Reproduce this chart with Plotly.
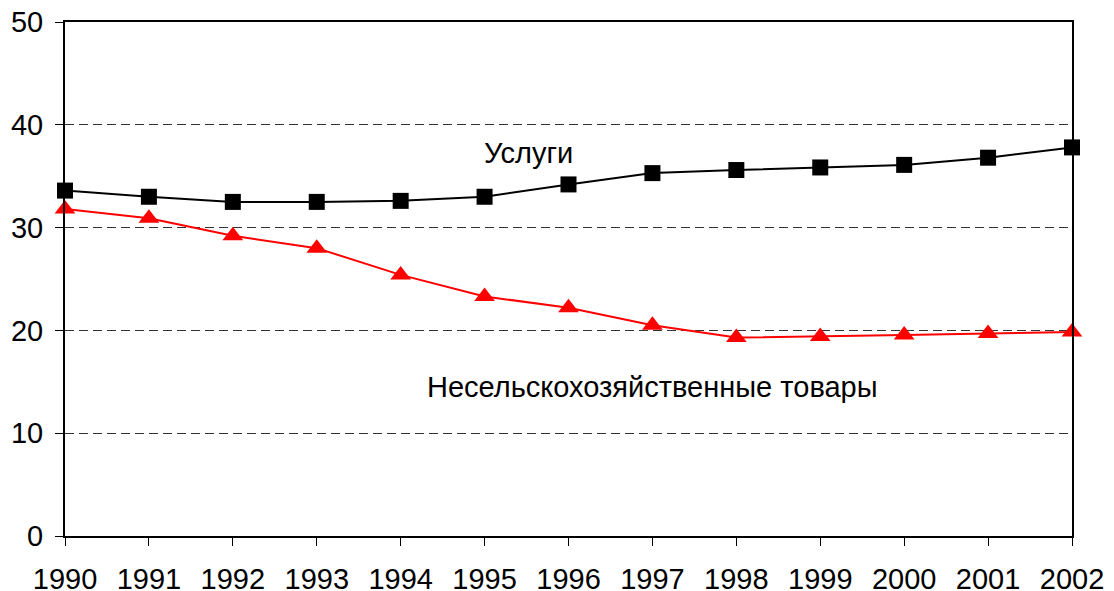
import plotly.graph_objects as go

years = list(range(1990, 2003))
services = [33.6, 33.0, 32.5, 32.5, 32.6, 33.0, 34.2, 35.3, 35.6, 35.85, 36.1, 36.8, 37.8]
goods = [31.8, 30.9, 29.2, 28.0, 25.4, 23.3, 22.2, 20.5, 19.3, 19.4, 19.55, 19.7, 19.85]
y_ticks = [0, 10, 20, 30, 40, 50]

fig = go.Figure()
fig.add_trace(go.Scatter(x=years, y=services, mode="lines+markers",
                         line=dict(color="black", width=2),
                         marker=dict(symbol="square", size=16, color="black"),
                         cliponaxis=False, showlegend=False))
fig.add_trace(go.Scatter(x=years, y=goods, mode="lines+markers",
                         line=dict(color="red", width=2),
                         marker=dict(symbol="triangle-up", size=18, color="red"),
                         cliponaxis=False, showlegend=False))

fig.add_annotation(x=1995.52, y=37.3, text="Услуги", showarrow=False,
                   font=dict(family="Liberation Sans, Arial", size=29, color="black"))
fig.add_annotation(x=1997.0, y=14.5, text="Несельскохозяйственные товары", showarrow=False,
                   font=dict(family="Liberation Sans, Arial", size=29, color="black"))

fig.update_layout(
    width=1114, height=591,
    margin=dict(l=65, r=42, t=22, b=55, autoexpand=False),
    paper_bgcolor="white", plot_bgcolor="white",
    font=dict(family="Liberation Sans, Arial", size=29, color="black"),
)
fig.update_xaxes(range=[1990, 2002], tickvals=years, ticktext=[str(y) for y in years],
                 showgrid=False, zeroline=False, showline=True, linecolor="black", linewidth=2,
                 mirror=True, ticks="outside", ticklen=8, tickcolor="black", tickwidth=1,
                 ticklabelstandoff=8, automargin=False)
fig.update_yaxes(range=[0, 50], tickvals=y_ticks,
                 showgrid=True, gridcolor="#333333", griddash="9px,5px", gridwidth=1,
                 zeroline=False, showline=True, linecolor="black", linewidth=2, mirror=True,
                 ticks="outside", ticklen=8, tickcolor="black", tickwidth=1,
                 ticklabelstandoff=6, automargin=False)

fig.write_html("out.html", config={"displayModeBar": False},
               post_script="document.body.style.margin='0';document.body.style.overflow='hidden';")
